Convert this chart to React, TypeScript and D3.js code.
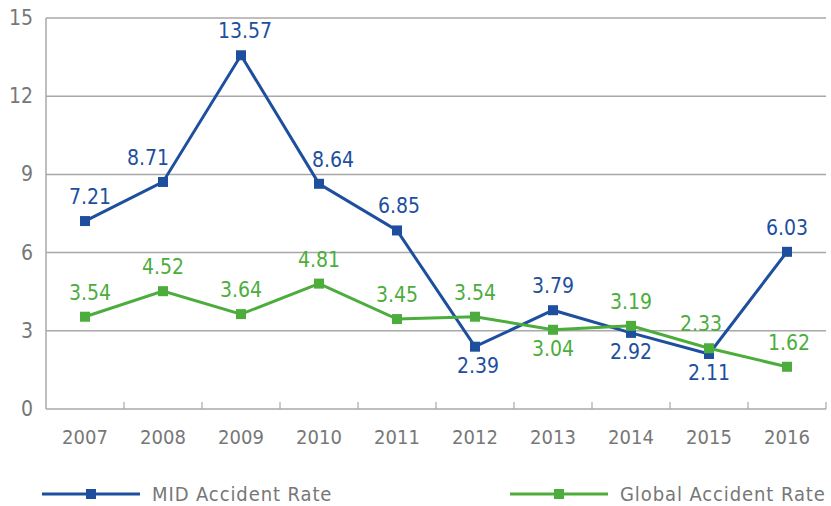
import { line, scaleBand, scaleLinear } from "d3";

const years = ["2007", "2008", "2009", "2010", "2011", "2012", "2013", "2014", "2015", "2016"];
const midRate = [7.21, 8.71, 13.57, 8.64, 6.85, 2.39, 3.79, 2.92, 2.11, 6.03];
const globalRate = [3.54, 4.52, 3.64, 4.81, 3.45, 3.54, 3.04, 3.19, 2.33, 1.62];
// label placement: true = above the marker
const midAbove = [true, true, true, true, true, false, true, false, false, true];
const globalAbove = [true, true, true, true, true, true, false, true, true, true];
// small horizontal nudges so labels clear the lines
const midShift = [5, -15, 4, 14, 2, 3, 0, 0, 0, 0];
const globalShift = [5, 0, 0, 0, 0, 0, 0, 0, -8, 2];
const yTicks = [0, 3, 6, 9, 12, 15];

const BLUE = "#1d4f9e";
const GREEN = "#4cad3c";
const GRAY = "#777777";
const GRID = "#a8a8a8";
const FONT = "'Liberation Sans Narrow', 'DejaVu Sans Condensed', Roboto, sans-serif";

export default function App() {
  const width = 831;
  const height = 506;
  const padding = { top: 18, right: 5, bottom: 97, left: 46 };

  const x = scaleBand()
    .domain(years)
    .range([padding.left, width - padding.right]);
  const y = scaleLinear()
    .domain([0, 15])
    .range([height - padding.bottom, padding.top]);

  const cx = (year: string) => (x(year) ?? 0) + x.bandwidth() / 2;
  const path = line<number>()
    .x((_, i) => cx(years[i]))
    .y((d) => y(d));

  const series = [
    { values: midRate, above: midAbove, shift: midShift, color: BLUE },
    { values: globalRate, above: globalAbove, shift: globalShift, color: GREEN },
  ];

  const legend = [
    { label: "MID Accident Rate", color: BLUE, x0: 42 },
    { label: "Global Accident Rate", color: GREEN, x0: 510 },
  ];
  const legendY = 494;

  return (
    <svg
      width={width}
      height={height}
      style={{ position: "absolute", left: 0, top: 0, background: "#fff" }}
      fontFamily={FONT}
    >
      <g>
        {yTicks.filter((t) => t > 0).map((t) => (
          <line
            key={`grid-${t}`}
            x1={padding.left}
            x2={width - padding.right}
            y1={y(t)}
            y2={y(t)}
            stroke={GRID}
            strokeWidth={1.5}
          />
        ))}
        <line x1={padding.left} x2={padding.left} y1={y(15)} y2={y(0)} stroke={GRID} strokeWidth={1.5} />
        <line x1={padding.left} x2={width - padding.right} y1={y(0)} y2={y(0)} stroke={GRID} strokeWidth={1.5} />
        {years.map((yr) => (
          <line
            key={`tick-${yr}`}
            x1={(x(yr) ?? 0) + x.bandwidth()}
            x2={(x(yr) ?? 0) + x.bandwidth()}
            y1={y(0)}
            y2={y(0) - 7}
            stroke={GRID}
            strokeWidth={1.2}
          />
        ))}
        {yTicks.map((t) => (
          <text key={`yl-${t}`} x={33} y={y(t) + 7} textAnchor="end" fontSize={21} fill={GRAY}>
            {t}
          </text>
        ))}
        {years.map((yr) => (
          <text key={`xl-${yr}`} x={cx(yr)} y={444} textAnchor="middle" fontSize={20} fill={GRAY}>
            {yr}
          </text>
        ))}
      </g>
      {series.map((s, si) => (
        <g key={`s-${si}`}>
          <path d={path(s.values) ?? ""} fill="none" stroke={s.color} strokeWidth={3} />
          {s.values.map((v, i) => (
            <rect
              key={`m-${i}`}
              x={cx(years[i]) - 5}
              y={y(v) - 5}
              width={10}
              height={10}
              fill={s.color}
            />
          ))}
          {s.values.map((v, i) => (
            <text
              key={`l-${i}`}
              x={cx(years[i]) + s.shift[i]}
              y={s.above[i] ? y(v) - 17 : y(v) + 26}
              textAnchor="middle"
              fontSize={21}
              fill={s.color}
            >
              {v.toFixed(2)}
            </text>
          ))}
        </g>
      ))}
      {legend.map((l) => (
        <g key={l.label}>
          <line x1={l.x0} x2={l.x0 + 98} y1={legendY} y2={legendY} stroke={l.color} strokeWidth={3} />
          <rect x={l.x0 + 44} y={legendY - 5} width={10} height={10} fill={l.color} />
          <text x={l.x0 + 110} y={legendY + 7} fontSize={20} letterSpacing={0.9} fill={GRAY}>
            {l.label}
          </text>
        </g>
      ))}
    </svg>
  );
}
